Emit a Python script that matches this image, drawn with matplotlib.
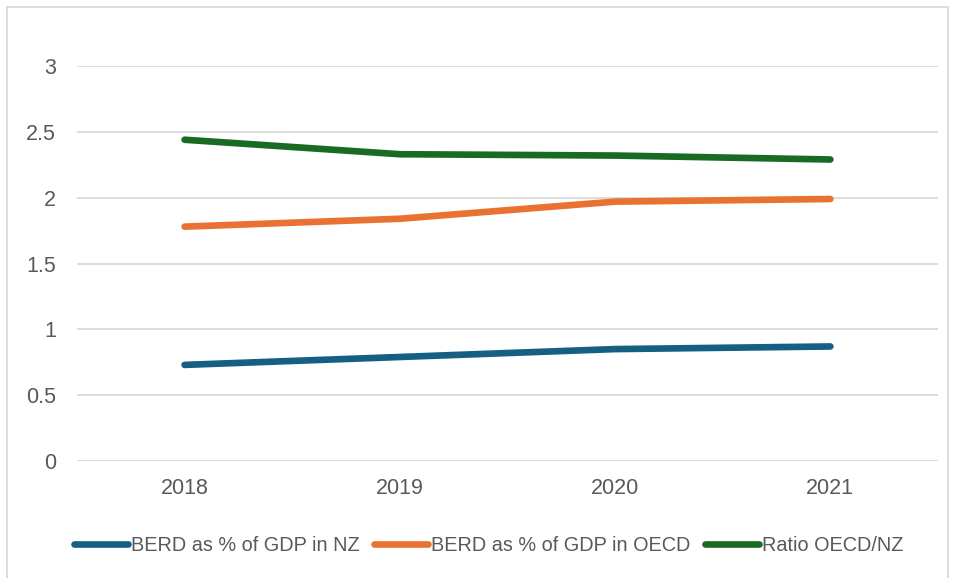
import matplotlib.pyplot as plt
from matplotlib.patches import Rectangle

years = ["2018", "2019", "2020", "2021"]
berd_nz = [0.73, 0.79, 0.85, 0.87]
berd_oecd = [1.78, 1.84, 1.97, 1.99]
ratio_oecd_nz = [2.44, 2.33, 2.32, 2.29]

series = [
    ("BERD as % of GDP in NZ", berd_nz, "#156082"),
    ("BERD as % of GDP in OECD", berd_oecd, "#E97132"),
    ("Ratio OECD/NZ", ratio_oecd_nz, "#196B24"),
]

plt.rcParams["font.family"] = ["Liberation Sans", "DejaVu Sans"]

fig = plt.figure(figsize=(9.55, 5.78), dpi=100)
ax = fig.add_axes([0.0806, 0.2024, 0.9016, 0.6834])

x = range(len(years))
for label, vals, color in series:
    ax.plot(x, vals, color=color, lw=4.8, solid_capstyle="round",
            solid_joinstyle="round", label=label, zorder=3)

ax.set_xlim(-0.5, len(years) - 0.5)
ax.set_ylim(0, 3)
ax.set_yticks([0, 0.5, 1, 1.5, 2, 2.5, 3])
ax.set_yticklabels(["0", "0.5", "1", "1.5", "2", "2.5", "3"])
ax.set_xticks(list(x))
ax.set_xticklabels(years)
ax.grid(axis="y", color="#D9D9D9", lw=1.3)
ax.set_axisbelow(True)
for s in ax.spines.values():
    s.set_visible(False)
ax.tick_params(length=0, labelsize=15.5, colors="#595959")
ax.tick_params(axis="y", pad=15)
ax.tick_params(axis="x", pad=12)

ax.legend(loc="center", bbox_to_anchor=(0.478, -0.213), ncol=3, frameon=False,
          fontsize=14.3, labelcolor="#595959", handlelength=2.7,
          handletextpad=0.15, columnspacing=0.75)

# light outer border
fig.patches.append(Rectangle((7 / 955, -0.01), 941 / 955, 1 - 7 / 578 + 0.01,
                             transform=fig.transFigure, fill=False,
                             edgecolor="#D9D9D9", lw=1.3))

fig.savefig("out.png", dpi=100)
